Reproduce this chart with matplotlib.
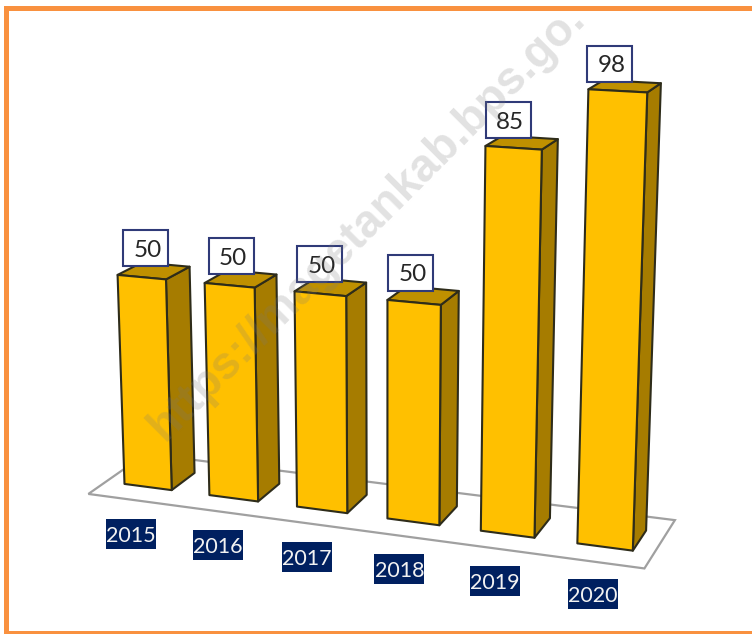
import numpy as np
import matplotlib
matplotlib.use("Agg")
import matplotlib.pyplot as plt
from matplotlib.patches import Polygon, Rectangle

# ---- data ----
years = ["2015", "2016", "2017", "2018", "2019", "2020"]
values = [50, 50, 50, 50, 85, 98]
watermark = "https://magetankab.bps.go."

# ---- camera: (category, depth, value) -> image pixel ----
CAMERA = np.array([
    [81.6627, 27.1856, -0.198829, 124.495],
    [3.50404, -6.03232, -4.32202, 483.933],
    [-0.0154281, 0.02331, -0.000514999, 1.0],
])
BAR_W = 0.56
FLOOR_X = (-0.22, 5.77)
FLOOR_Y = (-0.71, 1.67)


def project(x, d, v):
    h = CAMERA @ np.array([x, d, v, 1.0])
    return h[0] / h[2], h[1] / h[2]


FRONT = "#FFC000"
SIDE = "#A67C00"
TOP = "#BF9000"
EDGE = "#2E2C1A"
NAVY = "#002060"
ORANGE = "#F9913F"

plt.rcParams["font.family"] = ["Lato", "DejaVu Sans"]
fig = plt.figure(figsize=(7.52, 6.34), dpi=100)
ax = fig.add_axes([0, 0, 1, 1])
ax.set_xlim(0, 752)
ax.set_ylim(634, 0)
ax.axis("off")

# frame
for x, y, w, h in [(4, 6, 748, 5), (4, 6, 5, 628), (4, 631, 748, 3)]:
    ax.add_patch(Rectangle((x, y), w, h, fc=ORANGE, ec="none", zorder=1))

# floor
floor = [project(FLOOR_X[0], FLOOR_Y[0], 0), project(FLOOR_X[0], FLOOR_Y[1], 0),
         project(FLOOR_X[1], FLOOR_Y[1], 0), project(FLOOR_X[1], FLOOR_Y[0], 0)]
ax.add_patch(Polygon(floor, closed=True, fc="white", ec="#A0A0A0", lw=1.6, zorder=2))

# bars
for i, (yr, v) in enumerate(zip(years, values)):
    x0, x1 = i, i + BAR_W
    z = 3 + i
    ax.add_patch(Polygon([project(x1, 0, 0), project(x1, 1, 0), project(x1, 1, v), project(x1, 0, v)],
                         closed=True, fc=SIDE, ec=EDGE, lw=1.5, joinstyle="round", zorder=z))
    ax.add_patch(Polygon([project(x0, 0, v), project(x1, 0, v), project(x1, 1, v), project(x0, 1, v)],
                         closed=True, fc=TOP, ec=EDGE, lw=1.5, joinstyle="round", zorder=z))
    ax.add_patch(Polygon([project(x0, 0, 0), project(x1, 0, 0), project(x1, 0, v), project(x0, 0, v)],
                         closed=True, fc=FRONT, ec=EDGE, lw=1.5, joinstyle="round", zorder=z))

    # value label
    cx, cy = project(i + BAR_W / 2, 0.5, v)
    bx, by = cx - 8.5 - 1.3 * i, cy - 22.5
    ax.add_patch(Rectangle((bx - 22.5, by - 18), 45, 36, fc="white", ec="#2F3A78", lw=1.5, zorder=20))
    ax.text(bx + 2, by, str(v), ha="center", va="center_baseline", fontsize=17.5, color="#262626", zorder=21)

    # category label
    fx, fy = project(i + BAR_W / 2, 0, 0)
    lx, ly = fx - 17 + i, fy + 47
    ax.add_patch(Rectangle((lx - 25, ly - 15), 50, 30, fc=NAVY, ec="none", zorder=20))
    ax.text(lx, ly, yr, ha="center", va="center_baseline", fontsize=15.5, color="#F2F2F2", zorder=21)

# watermark
ax.text(165, 442, watermark, rotation=45, rotation_mode="anchor", ha="left", va="baseline",
        fontsize=33, fontweight="bold", family="Liberation Sans",
        color="#7A7A7A", alpha=0.22, zorder=30)

fig.savefig("out.png", dpi=100)
